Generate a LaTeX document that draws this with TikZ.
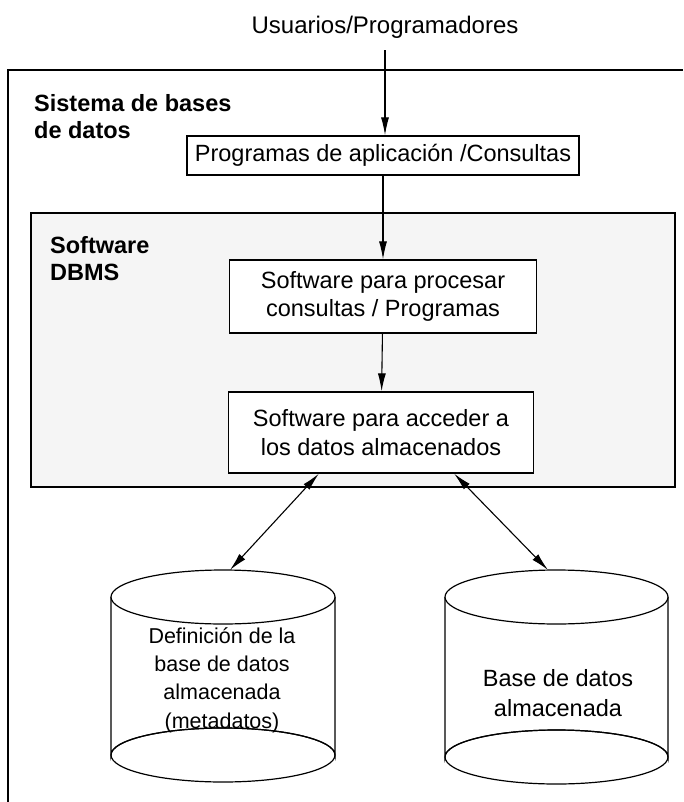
\documentclass[tikz,border=0pt]{standalone}
\usepackage{fontspec}
\setmainfont{Liberation Sans}
\usetikzlibrary{positioning,arrows.meta}

\tikzset{
  caja/.style={draw, line width=1.3pt, fill=white, align=center, inner sep=0pt,
    font=\fontsize{23.5}{28.5}\selectfont},
  titulo/.style={anchor=north west, align=left, inner sep=0pt,
    font=\bfseries\fontsize{23.5}{27}\selectfont},
  texto/.style={align=center, inner sep=0pt, font=\fontsize{23.5}{30}\selectfont},
  linea/.style={line width=1.2pt},
  flecha/.style={-{Latex[length=18pt,width=8pt]}, line width=1.1pt},
  doble/.style={{Latex[length=18pt,width=8pt]}-{Latex[length=18pt,width=8pt]}, line width=1.1pt},
}

\begin{document}
\begin{tikzpicture}[x=1pt,y=-1pt]
  \useasboundingbox (0,0) rectangle (683,802);

  \draw[linea] (8,802) -- (8,70) -- (683,70);
  \draw[linea, fill=black!4] (31,213) rectangle (675,487);

  \node[texto, font=\fontsize{24}{28}\selectfont] (usuarios) at (385,27) {Usuarios/Programadores};
  \node[titulo] (sistema) at (34,94) {Sistema de bases\\de datos};
  \node[titulo] (dbms) at (50,236) {Software\\DBMS};

  \node[caja, minimum width=392pt, minimum height=39pt] (programas) at (383,155.5)
    {Programas de aplicación /Consultas};
  \node[caja, minimum width=307pt, minimum height=73pt] (procesar) at (383,296.5)
    {Software para procesar\\consultas / Programas};
  \node[caja, minimum width=305pt, minimum height=81pt] (acceder) at (381,432.5)
    {Software para acceder a\\los datos almacenados};

  \draw[linea, fill=white] (111,597) -- (111,755) arc (180:360:112 and 27) -- (335,597);
  \draw[linea, fill=white] (223,597) ellipse (112 and 27);
  \draw[linea] (223,755) ellipse (112 and 27);
  \draw[linea, fill=white] (445,597) -- (445,757) arc (180:360:111.5 and 27) -- (668,597);
  \draw[linea, fill=white] (556.5,597) ellipse (111.5 and 27);
  \draw[linea] (556.5,757) ellipse (111.5 and 27);

  \coordinate (metatop) at (230,570);
  \coordinate (basetop) at (548,570);
  \node[texto, font=\fontsize{21.5}{28.3}\selectfont] (metadatos) at (222,680)
    {Definición de la\\base de datos\\almacenada\\(metadatos)};
  \node[texto] (base) at (558,693) {Base de datos\\almacenada};

  \draw[flecha, shorten <=12pt] (usuarios) -- (usuarios |- programas.north);
  \draw[flecha] (programas.south -| procesar.north) -- (procesar.north);
  \draw[flecha] (procesar) -- (acceder);
  \draw[doble] ([xshift=91pt]acceder.south west) -- (metatop);
  \draw[doble] ([xshift=-80pt]acceder.south east) -- (basetop);
\end{tikzpicture}
\end{document}
